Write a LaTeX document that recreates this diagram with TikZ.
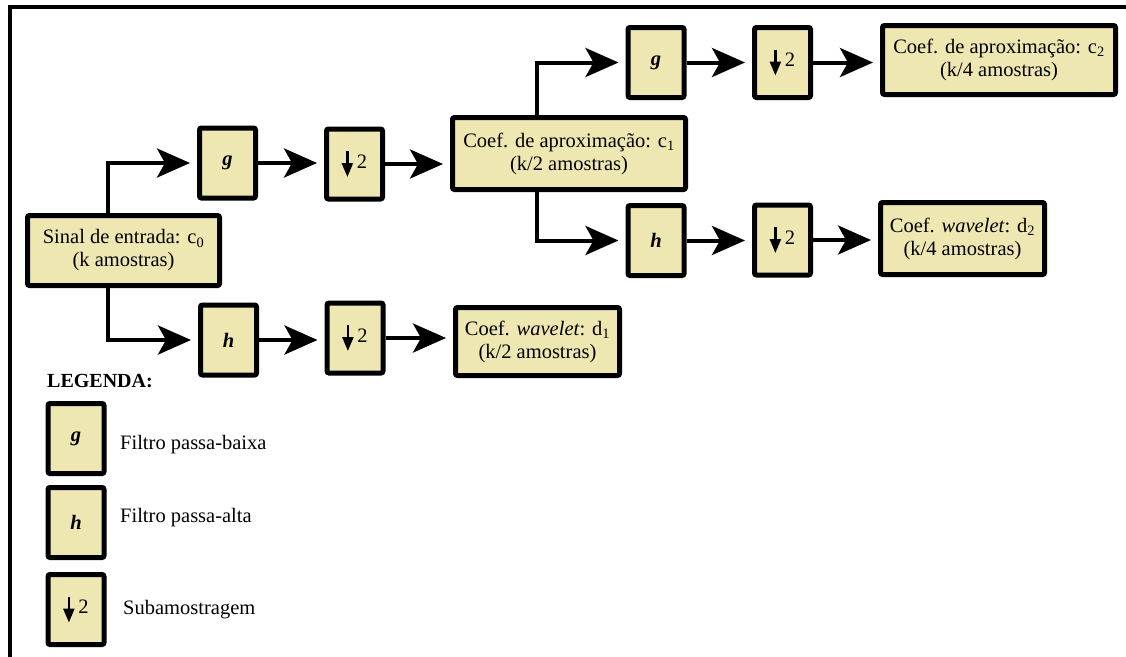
\documentclass[tikz,border=0pt]{standalone}
\usepackage{fontspec}
\setmainfont{Liberation Serif}
\newfontfamily\tnr{Liberation Serif}
\usetikzlibrary{arrows.meta,calc}
\definecolor{boxfill}{RGB}{238,231,178}
\newcommand{\dsym}{\tikz[baseline=0pt]\draw[line width=2.4pt,-{Triangle[length=14pt,width=11pt]}] (0pt,17pt) -- (0pt,-9pt);}
\newcommand{\dtwo}{\dsym\kern4pt 2}
\tikzset{
  blk/.style={draw, line width=5pt, fill=boxfill, rounded corners=2pt, inner sep=0pt,
    align=center, font=\tnr\fontsize{20.5}{23}\selectfont},
  small/.style={blk, minimum width=56pt, minimum height=70pt},
  arr/.style={line width=4pt, -{Stealth[length=33pt,width=29pt,inset=8pt]}, shorten >=7pt},
  legtext/.style={anchor=west, inner sep=0pt, font=\tnr\fontsize{20.5}{23}\selectfont},
}
\begin{document}
\begin{tikzpicture}[x=1pt,y=-1pt]
\useasboundingbox (0,0) rectangle (1126,656);
\fill[white] (0,0) rectangle (1126,656);
% frame
\draw[line width=4pt] (10,660) -- (10,7) -- (1130,7);

% nodes
\node[blk, minimum width=192pt, minimum height=70pt] (n0) at (123.5,250.5)
  {Sinal de entrada: c\textsubscript{0}\\(k amostras)};
\node[small] (g1) at (227.5,163) {\textbf{\textit{g}}};
\node[small] (dn1) at (354.5,164) {\dtwo};
\node[blk, minimum width=233pt, minimum height=72pt] (c1) at (569,153.5)
  {Coef. de aproximação: c\textsubscript{1}\\(k/2 amostras)};
\node[small] (g2) at (656,62.5) {\textbf{\textit{g}}};
\node[small] (dn2) at (782.5,62.5) {\dtwo};
\node[blk, minimum width=233pt, minimum height=69pt] (c2) at (999,60)
  {Coef. de aproximação: c\textsubscript{2}\\(k/4 amostras)};
\node[small] (h2) at (656,240.5) {\textbf{\textit{h}}};
\node[small] (dn3) at (782.5,240) {\dtwo};
\node[blk, minimum width=164pt, minimum height=72pt] (d2) at (962.5,238.5)
  {Coef. \textit{wavelet}: d\textsubscript{2}\\(k/4 amostras)};
\node[small] (h1) at (228.5,340) {\textbf{\textit{h}}};
\node[small] (dn4) at (355,338) {\dtwo};
\node[blk, minimum width=164pt, minimum height=68pt] (d1) at (537.5,341.5)
  {Coef. \textit{wavelet}: d\textsubscript{1}\\(k/2 amostras)};

% legend
\node[anchor=west, inner sep=0pt, font=\tnr\fontsize{20}{22}\selectfont\bfseries] (leg) at (47,381) {LEGENDA:};
\node[small] (lg) at (76,438.5) {\textbf{\textit{g}}};
\node[small] (lh) at (76,522.5) {\textbf{\textit{h}}};
\node[small] (ld) at (76,609.5) {\dtwo};
\node[legtext] (t1) at (120,445) {Filtro passa-baixa};
\node[legtext] (t2) at (120,518) {Filtro passa-alta};
\node[legtext] (t3) at (123,610) {Subamostragem};

% connectors
\draw[arr] ([xshift=-15.5pt]n0.north) |- (g1);
\draw[arr] (g1.east) -- (g1.east -| dn1.west);
\draw[arr] (dn1.east) -- (dn1.east -| c1.west);
\draw[arr] ([xshift=-32pt]c1.north) |- (g2);
\draw[arr] (g2.east) -- (g2.east -| dn2.west);
\draw[arr] (dn2.east) -- (dn2.east -| c2.west);
\draw[arr] ([xshift=-32pt]c1.south) |- (h2);
\draw[arr] (h2.east) -- (h2.east -| dn3.west);
\draw[arr] (dn3.east) -- (dn3.east -| d2.west);
\draw[arr] ([xshift=-15.5pt]n0.south) |- (h1);
\draw[arr] (h1.east) -- (h1.east -| dn4.west);
\draw[arr] (dn4.east) -- (dn4.east -| d1.west);
\end{tikzpicture}
\end{document}
